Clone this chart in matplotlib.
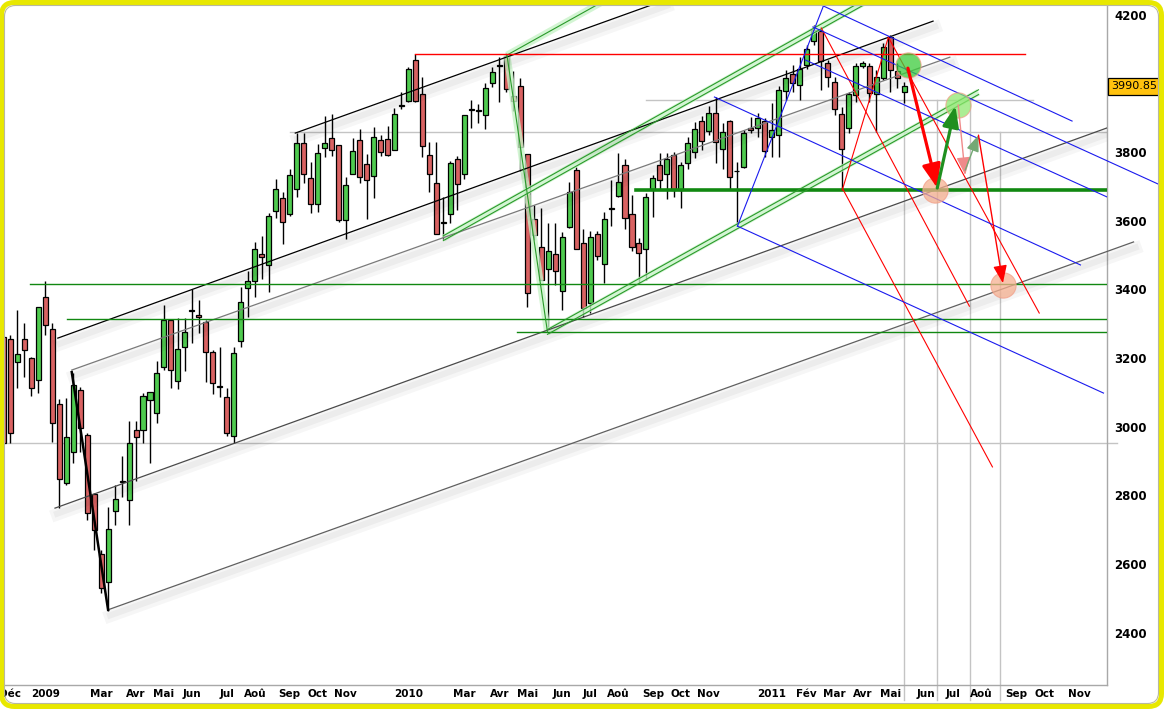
import numpy as np
import pandas as pd
import matplotlib
matplotlib.use("Agg")
import matplotlib.pyplot as plt
import matplotlib.patheffects as pe
from matplotlib.patches import FancyBboxPatch
from matplotlib.transforms import blended_transform_factory

# Bougies hebdomadaires, premiere semaine = 24/11/2008
debut = "2008-11-24"
ouv = [3261, 3255, 3188, 3255, 3200, 3136, 3378, 3285, 3066, 2836,
       2926, 3107, 2976, 2804, 2630, 2548, 2755, 2839, 2787, 2991,
       2991, 3078, 3040, 3174, 3311, 3133, 3232, 3337, 3324, 3305,
       3218, 3116, 3087, 2973, 3250, 3404, 3424, 3503, 3471, 3628,
       3666, 3619, 3692, 3826, 3724, 3648, 3811, 3840, 3820, 3602,
       3736, 3835, 3765, 3730, 3835, 3838, 3806, 3934, 3948, 4068,
       3969, 3791, 3709, 3593, 3619, 3779, 3736, 3922, 3919, 3907,
       4001, 4050, 4079, 3963, 3992, 3794, 3605, 3523, 3459, 3503,
       3395, 3581, 3747, 3535, 3360, 3561, 3474, 3634, 3672, 3762,
       3619, 3535, 3517, 3692, 3762, 3736, 3791, 3689, 3768, 3800,
       3890, 3861, 3913, 3808, 3890, 3744, 3756, 3870, 3870, 3890,
       3843, 3849, 3977, 4027, 3995, 4053, 4123, 4152, 4059, 4003,
       3910, 3870, 3966, 4050, 4050, 3969, 4015, 4134, 4036, 3974]
haut = [3273, 3267, 3340, 3302, 3203, 3349, 3424, 3302, 3081, 3084,
        3156, 3116, 2982, 2807, 2641, 2766, 2830, 2915, 3017, 3017,
        3098, 3101, 3191, 3354, 3311, 3317, 3317, 3401, 3369, 3311,
        3223, 3232, 3113, 3232, 3407, 3453, 3538, 3555, 3622, 3721,
        3683, 3750, 3855, 3855, 3771, 3823, 3905, 3910, 3820, 3727,
        3840, 3867, 3794, 3873, 3849, 3875, 3928, 3974, 4047, 4085,
        4018, 3829, 3829, 3669, 3774, 3788, 3907, 3951, 3939, 4001,
        4047, 4076, 4088, 4036, 4015, 3794, 3645, 3637, 3593, 3593,
        3567, 3712, 3756, 3576, 3570, 3570, 3625, 3718, 3797, 3779,
        3675, 3549, 3680, 3733, 3797, 3797, 3800, 3771, 3843, 3887,
        3905, 3934, 3960, 3884, 3893, 3771, 3864, 3902, 3913, 3899,
        3942, 3992, 4038, 4053, 4076, 4111, 4169, 4158, 4068, 4018,
        3931, 3974, 4059, 4065, 4059, 4038, 4117, 4140, 4059, 4003]
bas = [2926, 2953, 3113, 3145, 3089, 3098, 3267, 2956, 2763, 2830,
       2894, 2926, 2728, 2641, 2516, 2464, 2714, 2795, 2714, 2842,
       2953, 2894, 3011, 3165, 3113, 3110, 3162, 3244, 3273, 3130,
       3095, 3087, 2973, 2953, 3232, 3319, 3378, 3430, 3392, 3608,
       3532, 3613, 3669, 3709, 3622, 3625, 3785, 3788, 3596, 3546,
       3736, 3709, 3605, 3666, 3788, 3788, 3806, 3925, 3945, 3945,
       3785, 3683, 3561, 3546, 3593, 3631, 3721, 3870, 3884, 3867,
       3989, 3945, 3974, 3919, 3744, 3349, 3544, 3427, 3282, 3413,
       3340, 3579, 3517, 3319, 3331, 3485, 3418, 3584, 3669, 3576,
       3512, 3418, 3427, 3611, 3689, 3663, 3669, 3637, 3750, 3782,
       3806, 3849, 3768, 3750, 3689, 3584, 3753, 3855, 3843, 3785,
       3785, 3785, 3951, 3974, 3951, 4041, 4111, 3980, 3989, 3907,
       3689, 3855, 3945, 4044, 3945, 3858, 4009, 3974, 3986, 3942]
clot = [2953, 2982, 3212, 3223, 3113, 3349, 3296, 3011, 2848, 2970,
        3121, 2996, 2749, 2699, 2531, 2702, 2790, 2839, 2953, 2970,
        3089, 3101, 3156, 3311, 3165, 3226, 3276, 3337, 3320, 3218,
        3127, 3116, 2982, 3215, 3363, 3424, 3517, 3494, 3613, 3692,
        3596, 3733, 3826, 3736, 3648, 3797, 3826, 3806, 3602, 3704,
        3803, 3727, 3718, 3843, 3800, 3791, 3910, 3934, 4041, 3948,
        3817, 3736, 3561, 3593, 3768, 3707, 3907, 3922, 3919, 3986,
        4033, 4050, 3983, 3948, 3814, 3389, 3558, 3427, 3512, 3453,
        3552, 3683, 3517, 3346, 3552, 3497, 3605, 3634, 3712, 3608,
        3523, 3506, 3669, 3724, 3718, 3779, 3689, 3762, 3826, 3867,
        3832, 3913, 3829, 3858, 3727, 3744, 3855, 3864, 3899, 3803,
        3864, 3980, 4015, 4001, 4041, 4100, 4155, 4065, 4018, 3925,
        3808, 3969, 4050, 4059, 3971, 4018, 4105, 4038, 4015, 3991]
dernier = 3990.85

# 4000 est masque par l'etiquette du dernier cours
niveaux = [2400, 2600, 2800, 3000, 3200, 3400, 3600, 3800, 4200]
mois_fr = ['Jan', 'Fév', 'Mar', 'Avr', 'Mai', 'Jun', 'Jul', 'Aoû', 'Sep', 'Oct', 'Nov', 'Déc']
mois_caches = ['2009-02', '2009-12', '2010-02', '2010-12', '2011-12']

# Traces (semaine debut, prix debut, semaine fin, prix fin)
lignes_noires = [(7.8, 3258, 133.1, 4181), (41.8, 3855, 94.7, 4242)]
lignes_grises = [(9.8, 3165, 135.5, 4076, '#7a7a7a'),
                 (7.4, 2763, 158.0, 3870, '#4a4a4a'),
                 (15.0, 2467, 161.8, 3538, '#606060')]
ligne_chute_2009 = (9.8, 3159, 15.0, 2467)
horiz_vertes = [(3416, 3.8, 1.0), (3314, 9.1, 1.0), (3276, 73.6, 1.0), (3689, 90.6, 2.6)]
fourche_verte = [(63.0, 3549, 123.8, 4242, True), (72.1, 4082, 86.2, 4242, False),
                 (77.9, 3276, 139.6, 3974, True), (72.1, 4082, 77.9, 3276, False)]
horiz_rouge = (4085, 58.9, 146.3)
lignes_rouges = [(117.1, 4161, 138.3, 3351), (126.7, 4134, 148.3, 3331),
                 (120.1, 3695, 141.6, 2883), (120.1, 3689, 126.7, 4134)]
lignes_bleues = [(105.1, 3584, 117.4, 4225), (117.4, 4225, 153.0, 3890),
                 (115.9, 4164, 165.6, 3704), (114.8, 4068, 158.0, 3669),
                 (101.8, 3960, 154.2, 3471), (105.1, 3584, 157.5, 3098)]
# fleches: depart, arrivee, couleur, epaisseur, taille de pointe
fleches = [((129.5, 4044), (133.7, 3695), 'red', 2.3, 16),
           ((133.7, 3695), (136.3, 3934), '#1f8f1f', 2.3, 14),
           ((136.7, 3937), (137.7, 3733), '#f08a8a', 1.0, 12),
           ((137.7, 3747), (139.6, 3849), '#74a874', 1.0, 11),
           ((139.6, 3849), (143.1, 3418), 'red', 1.0, 12)]
cercles = [(129.5, 4053, '#3ccc3c'), (136.7, 3937, '#8fe870'),
           (133.4, 3689, '#f6b090'), (143.1, 3413, '#f6b090')]
gris_horiz = [(2953, -0.5, 159.5), (3858, 41.0, 158.0), (3951, 92.0, 147.4)]
gris_vert = [(129.0, 3951), (133.7, 3951), (138.4, 3951), (142.7, 3858)]

W, H = 1167, 710
fig = plt.figure(figsize=(W / 100, H / 100), dpi=100)
fig.patch.set_facecolor('white')
ax = fig.add_axes([4 / W, (H - 685) / H, (1107 - 4) / W, (685 - 6) / H])
ax.set_xlim(0.1, 158.0)
ax.set_ylim(2248, 4225)
ax.set_facecolor('white')

# lignes grises de fond
for p, a, b in gris_horiz:
    ax.plot([a, b], [p, p], color='#c4c4c4', lw=1, zorder=1, clip_on=(b <= 158))
for s, p in gris_vert:
    ax.plot([s, s], [p, 2205], color='#c4c4c4', lw=1, zorder=1, clip_on=False)

# bougies
x = np.arange(len(ouv))
o, h, l, c = map(np.array, (ouv, haut, bas, clot))
ax.vlines(x, l, h, color='black', lw=1, zorder=3)
couleurs = np.where(c >= o, '#4fcb4f', '#d96262')
ax.bar(x, np.maximum(np.abs(c - o), 2), bottom=np.minimum(o, c), width=0.72,
       color=couleurs, edgecolor='black', linewidth=0.9, zorder=4)

ombre = [pe.SimpleLineShadow(offset=(1.5, -4.5), shadow_color='black', alpha=0.035, linewidth=9),
         pe.SimpleLineShadow(offset=(1.5, -4), shadow_color='black', alpha=0.04, linewidth=4.5),
         pe.Normal()]

for x0, p0, x1, p1 in lignes_noires:
    ax.plot([x0, x1], [p0, p1], color='black', lw=0.9, zorder=6, path_effects=ombre)
for x0, p0, x1, p1, col in lignes_grises:
    ax.plot([x0, x1], [p0, p1], color=col, lw=0.9, zorder=6, path_effects=ombre,
            clip_on=(x1 <= 158))
x0, p0, x1, p1 = ligne_chute_2009
ax.plot([x0, x1], [p0, p1], color='black', lw=1.8, zorder=6)

for p, a, lw in horiz_vertes:
    ax.plot([a, 158.0], [p, p], color='#118811', lw=lw, zorder=6)

for x0, p0, x1, p1, double in fourche_verte:
    ax.plot([x0, x1], [p0, p1], color='#c9f3c9', lw=5, alpha=0.8, zorder=5,
            solid_capstyle='butt')
    if double:
        for d in (-7, 7):
            ax.plot([x0, x1], [p0 + d, p1 + d], color='#2a9a2a', lw=0.8, zorder=6)
    else:
        ax.plot([x0, x1], [p0, p1], color='#2a9a2a', lw=0.8, zorder=6)

p, a, b = horiz_rouge
ax.plot([a, b], [p, p], color='red', lw=1, zorder=6)
for x0, p0, x1, p1 in lignes_rouges:
    ax.plot([x0, x1], [p0, p1], color='red', lw=0.8, zorder=6)
for x0, p0, x1, p1 in lignes_bleues:
    ax.plot([x0, x1], [p0, p1], color='#1a1aee', lw=0.8, zorder=6,
            clip_on=(x1 <= 158))

for sx, sy, col in cercles:
    ax.scatter([sx], [sy], s=330, color=col, alpha=0.75, edgecolors='#f2a08a',
               linewidths=0.8, zorder=7)
for debut_f, fin_f, col, lw, ms in fleches:
    ax.annotate('', xy=fin_f, xytext=debut_f, zorder=8,
                arrowprops=dict(arrowstyle='-|>,head_length=0.9,head_width=0.35',
                                color=col, lw=lw, shrinkA=0, shrinkB=0,
                                mutation_scale=ms))

# axes
for cote in ('top', 'left'):
    ax.spines[cote].set_visible(False)
for cote in ('right', 'bottom'):
    ax.spines[cote].set_color('#a8a8a8')
    ax.spines[cote].set_linewidth(1)

ax.yaxis.tick_right()
ax.set_yticks(niveaux)
ax.set_yticklabels([str(v) for v in niveaux], fontsize=8.5, fontweight='bold')
ax.tick_params(axis='y', length=0, pad=5)

semaines = pd.date_range(debut, periods=158, freq='W-MON')
pos, lab = [], []
for i in range(1, len(semaines)):
    d = semaines[i]
    if d.month != semaines[i - 1].month and d.strftime('%Y-%m') not in mois_caches:
        pos.append(i)
        lab.append(str(d.year) if d.month == 1 else mois_fr[d.month - 1])
ax.set_xticks(pos)
ax.set_xticklabels(lab, fontsize=7.5, fontweight='bold')
ax.tick_params(axis='x', length=0, pad=3)

trans = blended_transform_factory(ax.transAxes, ax.transData)
ax.text(1.004, dernier, f"{dernier:.2f}", transform=trans, ha='left', va='center',
        fontsize=8, color='black',
        bbox=dict(boxstyle='square,pad=0.28', fc='#ffc20e', ec='black', lw=0.9))

# cadre jaune arrondi
cadre = fig.add_axes([0, 0, 1, 1], zorder=20)
cadre.set_xlim(0, W)
cadre.set_ylim(H, 0)
cadre.axis('off')
cadre.patch.set_alpha(0)
cadre.add_patch(FancyBboxPatch((1.5, 2.5), 1160, 704, boxstyle='round,pad=0,rounding_size=13',
                               fill=False, ec='#e8e800', lw=3.6))
cadre.add_patch(FancyBboxPatch((4.5, 5.5), 1154, 698, boxstyle='round,pad=0,rounding_size=11',
                               fill=False, ec='#b8b8a0', lw=0.8))

fig.savefig('out.png', dpi=100, facecolor='white')
